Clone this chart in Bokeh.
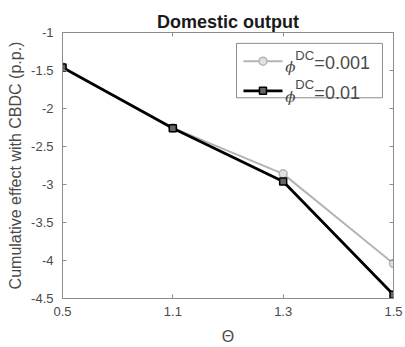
from bokeh.plotting import figure
from bokeh.models import FixedTicker, LinearAxis, Range1d, Label
from bokeh.embed import file_html
from bokeh.resources import INLINE

theta_labels = ["0.5", "1.1", "1.3", "1.5"]
x_pos = [1, 2, 3, 4]
y_001 = [-1.455, -2.255, -2.86, -4.04]
y_01 = [-1.46, -2.26, -2.96, -4.45]
y_ticks = [-4.5, -4, -3.5, -3, -2.5, -2, -1.5, -1]

FONT = "Liberation Sans"
AX = "#8c8c8c"
TXT = "#4a4a4a"
GRAY = "#b4b4b4"

p = figure(width=405, height=347, output_backend="svg", toolbar_location=None,
           x_range=Range1d(1, 4), y_range=Range1d(-4.5, -1),
           min_border_left=62, min_border_right=12, min_border_top=32, min_border_bottom=46)
p.title.text = "Domestic output"
p.title.align = "center"
p.title.text_font = FONT
p.title.text_font_size = "18px"
p.title.text_font_style = "bold"
p.title.text_color = "#1a1a1a"
p.title.standoff = 2
p.xgrid.visible = False
p.ygrid.visible = False
p.outline_line_color = AX
p.background_fill_color = "white"
p.border_fill_color = "white"

for ax in [p.xaxis[0], p.yaxis[0]]:
    ax.axis_line_color = AX
    ax.major_tick_line_color = AX
    ax.major_tick_in = 4
    ax.major_tick_out = 0
    ax.minor_tick_line_color = None
    ax.major_label_text_font = FONT
    ax.major_label_text_font_size = "13px"
    ax.major_label_text_color = TXT
    ax.axis_label_text_font = FONT
    ax.axis_label_text_font_style = "normal"
    ax.axis_label_text_color = TXT

p.xaxis.ticker = FixedTicker(ticks=x_pos)
p.xaxis.major_label_overrides = {x: t for x, t in zip(x_pos, theta_labels)}
p.xaxis.axis_label = "Θ"
p.xaxis.axis_label_text_font_size = "16px"
p.xaxis.major_label_standoff = 8
p.xaxis.axis_label_standoff = 9
p.yaxis.ticker = FixedTicker(ticks=y_ticks)
p.yaxis.major_label_overrides = {v: ("%g" % v) for v in y_ticks}
p.yaxis.axis_label = "Cumulative effect with CBDC (p.p.)"
p.yaxis.axis_label_text_font_size = "16px"
p.yaxis.major_label_standoff = 9
p.yaxis.axis_label_standoff = 4

# mirrored ticks on top/right (no labels)
top = LinearAxis(ticker=FixedTicker(ticks=x_pos), major_label_text_color=None,
                 major_label_text_font_size="1px",
                 axis_line_color=AX, major_tick_line_color=AX, major_tick_in=4,
                 major_tick_out=0, minor_tick_line_color=None)
right = LinearAxis(ticker=FixedTicker(ticks=y_ticks), major_label_text_color=None,
                   major_label_text_font_size="1px",
                   axis_line_color=AX, major_tick_line_color=AX, major_tick_in=4,
                   major_tick_out=0, minor_tick_line_color=None)
p.add_layout(top, "above")
p.add_layout(right, "right")

p.line(x_pos, y_001, line_color=GRAY, line_width=2)
p.scatter(x_pos, y_001, marker="circle", size=8, line_color=GRAY, fill_color="#e0e0e0", line_width=1.5)
p.line(x_pos, y_01, line_color="black", line_width=2.8)
p.scatter(x_pos, y_01, marker="square", size=7, line_color="black", fill_color="#666666", line_width=1.5)

# legend (drawn manually for the superscript)
p.quad(left=[2.577], right=[3.90], top=[-1.143], bottom=[-1.859],
       fill_color="white", line_color=AX, line_width=1)
leg_y = [-1.377, -1.768]
p.line([2.64, 2.994], [leg_y[0]] * 2, line_color=GRAY, line_width=2)
p.scatter([2.817], [leg_y[0]], marker="circle", size=8, line_color=GRAY, fill_color="#e0e0e0", line_width=1.5)
p.line([2.64, 2.994], [leg_y[1]] * 2, line_color="black", line_width=2.8)
p.scatter([2.817], [leg_y[1]], marker="square", size=7, line_color="black", fill_color="#666666", line_width=1.5)
for yy, val in zip(leg_y, ["=0.001", "=0.01"]):
    p.add_layout(Label(x=3.02, y=yy, text="ϕ", text_font="DejaVu Serif", text_font_style="italic",
                       text_font_size="15px", text_color=TXT, text_baseline="middle", y_offset=-6))
    p.add_layout(Label(x=3.02, y=yy, x_offset=10, y_offset=6, text="DC", text_font=FONT,
                       text_font_size="13px", text_color=TXT, text_baseline="middle"))
    p.add_layout(Label(x=3.02, y=yy, x_offset=29, y_offset=-2, text=val, text_font=FONT,
                       text_font_size="18px", text_color=TXT, text_baseline="middle"))

open("out.html", "w").write(file_html(p, INLINE))
